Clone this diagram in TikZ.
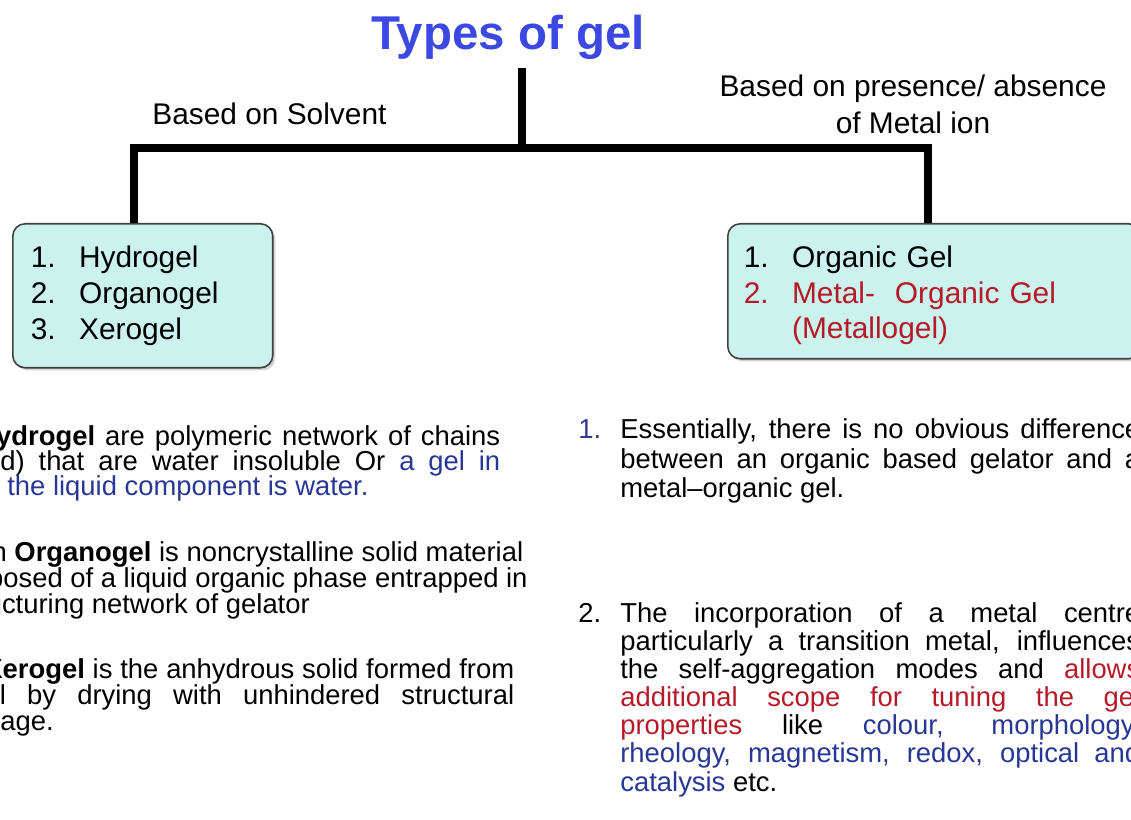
\documentclass[tikz,border=0pt]{standalone}
\usepackage{fontspec}
\setmainfont{Liberation Sans}
\usepackage{xcolor}
\usetikzlibrary{positioning, shadows}
\definecolor{titleblue}{RGB}{60,72,226}
\definecolor{boxcyan}{RGB}{204,242,238}
\definecolor{gelred}{RGB}{182,26,40}
\definecolor{gelblue}{RGB}{40,55,150}
\definecolor{numblue}{RGB}{55,55,145}
\newcommand{\gitem}[2]{\makebox[27.5pt][l]{#1}#2}

\begin{document}
\begin{tikzpicture}[
        x=0.02cm, y=-0.02cm,
        bar/.style={line width=4.5pt, black},
        gelbox/.style={draw=black!75, line width=0.9pt, fill=boxcyan, rounded corners=7pt,
            drop shadow={shadow xshift=1.5pt, shadow yshift=-1.5pt, opacity=0.35},
            anchor=north west, inner ysep=0pt, align=left, font=\fontsize{17pt}{20.3pt}\selectfont},
        branch/.style={font=\fontsize{17pt}{21.6pt}\selectfont, align=center, inner sep=0pt},
        txt/.style={anchor=base west, inner sep=0pt, font=\fontsize{15.6pt}{16.2pt}\selectfont}
    ]
        \useasboundingbox (0,0) rectangle (1131,820);
        \clip (0,0) rectangle (1131,820);

        % Title and branch labels
        \node[anchor=base, inner sep=0pt, text=titleblue, font=\fontsize{27pt}{30pt}\selectfont\bfseries] (title) at (508,50) {Types of gel};
        \node[branch, anchor=base west] (solvlbl) at (152,125) {Based on Solvent};
        \node[branch, anchor=base] (metallbl) at (913,134) {Based on presence/ absence\\of Metal ion};

        % Boxes
        \node[gelbox, minimum width=5.2cm, minimum height=2.88cm, text width=4.48cm, inner xsep=0.36cm] (solvbox) at (12,223)
            {\gitem{1.}{Hydrogel}\\\gitem{2.}{Organogel}\\\gitem{3.}{Xerogel}};
        \node[gelbox, minimum width=8.26cm, minimum height=2.7cm, text width=7.62cm, inner xsep=0.32cm] (metalbox) at (727,223)
            {\rule{0pt}{17pt}\gitem{1.}{Organic Gel}\\{\color{gelred}\gitem{2.}{Metal-\ \ Organic Gel}}\\{\color{gelred}\gitem{}{(Metallogel)}}};

        % Tree lines
        \coordinate (stemtop) at (522,68);
        \coordinate (barmid) at (522,148);
        \coordinate (barleft) at (134,148);
        \coordinate (barright) at (928,148);
        \draw[bar] (stemtop) -- (barmid);
        \draw[bar, line join=miter] (solvbox.north -| barleft) |- (barright) -- (barright |- metalbox.north);

        % Solvent side text
        \node[txt] (hyd1) at (-24,445) {\makebox[10.48cm][s]{\textbf{Hydrogel} are polymeric network of chains}};
        \node[txt] (hyd2) at (0,470) {\makebox[10cm][s]{d) that are water insoluble Or {\color{gelblue}a gel in}}};
        \node[txt, text=gelblue] (hyd3) at (7,495) {the liquid component is water.};

        \node[txt] (org1) at (-27,561) {An \textbf{Organogel} is noncrystalline solid material};
        \node[txt] (org2) at (-64,587) {composed of a liquid organic phase entrapped in};
        \node[txt] (org3) at (-44,613) {structuring network of gelator};

        \node[txt] (xer1) at (-16,678) {\makebox[10.6cm][s]{\textbf{Xerogel} is the anhydrous solid formed from}};
        \node[txt] (xer2) at (-31,704) {\makebox[10.9cm][s]{gel by drying with unhindered structural}};
        \node[txt] (xer3) at (-73,730) {shrinkage.};

        % Metal side text
        \node[txt, text=numblue] (ess) at (578,438) {1.};
        \node[txt] (ess1) at (620,438) {\makebox[10.4cm][s]{Essentially, there is no obvious difference}};
        \node[txt] (ess2) at (620,468) {\makebox[10.4cm][s]{between an organic based gelator and a}};
        \node[txt] (ess3) at (620,497) {metal\textendash organic gel.};

        \node[txt] (inc) at (578,622) {2.};
        \node[txt] (inc1) at (620,622) {\makebox[10.4cm][s]{The incorporation of a metal centre}};
        \node[txt] (inc2) at (620,650) {\makebox[10.4cm][s]{particularly a transition metal, influences}};
        \node[txt] (inc3) at (620,678) {\makebox[10.4cm][s]{the self-aggregation modes and {\color{gelred}allows}}};
        \node[txt, text=gelred] (inc4) at (620,706) {\makebox[10.4cm][s]{additional scope for tuning the gel}};
        \node[txt] (inc5) at (620,734) {\makebox[10.4cm][s]{{\color{gelred}properties} like {\color{gelblue}colour, morphology,}}};
        \node[txt, text=gelblue] (inc6) at (620,762) {\makebox[10.4cm][s]{rheology, magnetism, redox, optical and}};
        \node[txt] (inc7) at (620,791) {{\color{gelblue}catalysis} etc.};
    \end{tikzpicture}
\end{document}
